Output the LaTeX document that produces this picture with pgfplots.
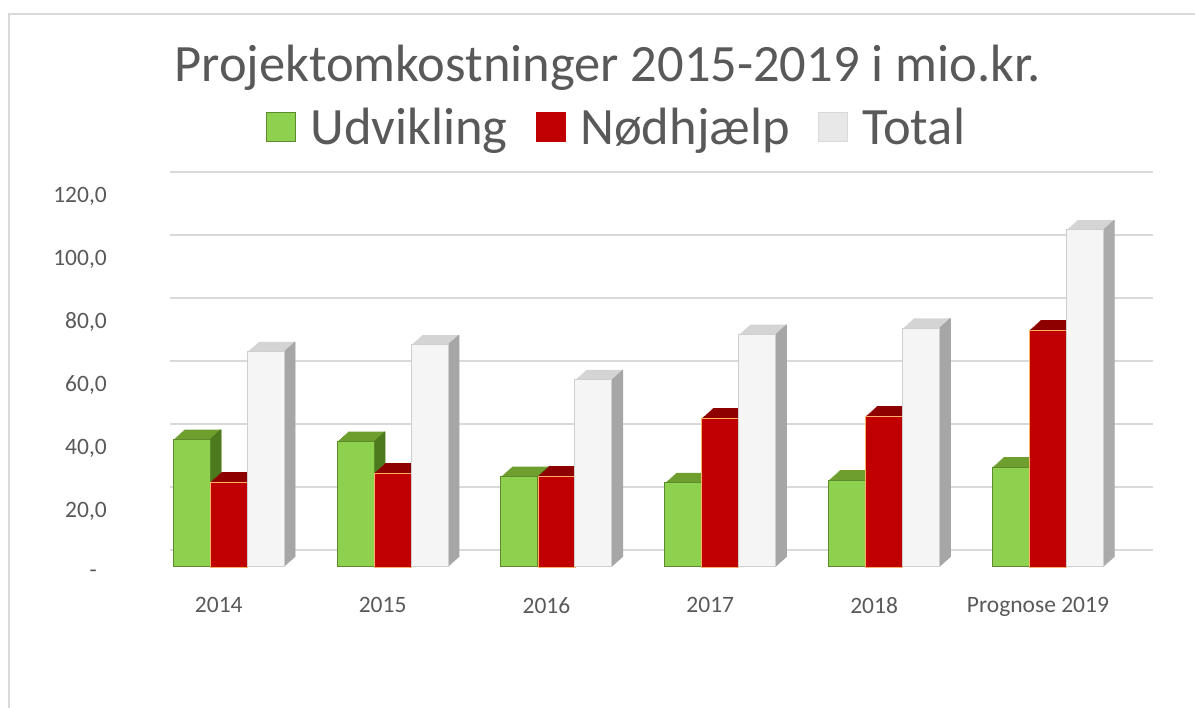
\documentclass[border=0pt]{standalone}
\usepackage{pgfplots}
\pgfplotsset{compat=1.18}
\usepackage{pgfplotstable}
\usepackage{fontspec}
\setmainfont{Carlito}
\definecolor{txt}{HTML}{595959}
\definecolor{gfront}{HTML}{8ED14F}
\definecolor{gtop}{HTML}{6E9E2E}
\definecolor{gside}{HTML}{4E7A1E}
\definecolor{gedge}{HTML}{5E8A2E}
\definecolor{rfront}{HTML}{C00000}
\definecolor{rtop}{HTML}{8E0000}
\definecolor{rside}{HTML}{760000}
\definecolor{redge}{HTML}{FFB060}
\definecolor{tfront}{HTML}{F5F5F5}
\definecolor{ttop}{HTML}{D4D4D4}
\definecolor{tside}{HTML}{A6A6A6}
\definecolor{tedge}{HTML}{CFCFCF}
\definecolor{gridc}{HTML}{D9D9D9}

\pgfplotstableread{
x g r t
0 40.5 27.0 68.3
1 39.8 29.8 70.5
2 28.7 28.9 59.4
3 26.7 47.3 73.8
4 27.6 47.9 75.8
5 31.7 75.2 107.0
}\data

% #1 column, #2 bar shift, #3 top colour, #4 side colour, #5 strip shift
\newcommand\depth[5]{%
  \pgfplotsinvokeforeach{11,10,...,1}{%
    \addplot[ybar, forget plot, fill=#3, draw=none, bar width=37pt, bar shift=#2,
      xshift=##1pt, yshift=##1*0.9pt] table[x=x,y=#1]{\data};
  }%
  \pgfplotsinvokeforeach{1,...,11}{%
    \addplot[ybar, forget plot, fill=#4, draw=none, bar width=1.3pt, bar shift=#5,
      xshift=##1pt, yshift=##1*0.9pt] table[x=x,y=#1]{\data};
  }%
}

\pgfplotsset{sqlegend/.style 2 args={legend image code/.code={%
  \draw[fill=#1,draw=#2,line width=1.5pt] (0pt,-14pt) rectangle (29pt,15pt);}}}

\begin{document}
\begin{tikzpicture}
\path[use as bounding box] (0,0) rectangle (1195pt,708pt);
\draw[gridc, line width=2pt] (8.5pt,0pt) -- (8.5pt,694pt) -- (1195pt,694pt);
\node[anchor=base, text=txt, font=\fontsize{52.5}{60}\selectfont, inner sep=0pt]
  at (607.5pt,626pt) {Projektomkostninger 2015-2019 i mio.kr.};
\begin{axis}[
  at={(160pt,141pt)}, anchor=south west,
  scale only axis, width=983pt, height=378pt,
  xmin=-0.42, xmax=5.58, ymin=0, ymax=120,
  clip=false,
  axis line style={draw=none},
  major tick length=0pt,
  xtick={0,...,5},
  xticklabels={2014,2015,2016,2017,2018,Prognose 2019},
  ytick={0,20,...,120},
  yticklabels={{-\hspace*{10pt}},{20,0},{40,0},{60,0},{80,0},{100,0},{120,0}},
  ticklabel style={text=txt, font=\fontsize{23.5}{28}\selectfont, inner sep=0pt},
  yticklabel style={anchor=east, xshift=-53pt, yshift=-7pt},
  xticklabel style={anchor=north, xshift=-10pt, yshift=-30pt},
  ymajorgrids,
  major grid style={draw=gridc, line width=1.3pt, xshift=10pt, yshift=17pt},
  legend columns=3,
  legend style={draw=none, fill=none, at={(0.4634,1.163)}, anchor=center,
    font=\fontsize{52.5}{60}\selectfont, text=txt, inner sep=0pt,
    nodes={inner sep=0pt},
    /tikz/every odd column/.append style={column sep=14pt},
    /tikz/every even column/.append style={column sep=28pt}},
]
\depth{g}{-37pt}{gtop}{gside}{-19pt}
\addplot[ybar, fill=gfront, draw=gedge, line width=1pt, bar width=37pt, bar shift=-37pt,
  sqlegend={gfront}{gedge}] table[x=x,y=g]{\data};
\addlegendentry{Udvikling}
\depth{r}{0pt}{rtop}{rside}{18pt}
\addplot[ybar, fill=rfront, draw=redge, line width=0.8pt, bar width=37pt, bar shift=0pt,
  sqlegend={rfront}{rfront}] table[x=x,y=r]{\data};
\addlegendentry{Nødhjælp}
\depth{t}{37pt}{ttop}{tside}{55pt}
\addplot[ybar, fill=tfront, draw=tedge, line width=1pt, bar width=37pt, bar shift=37pt,
  sqlegend={gridc!60}{gridc}] table[x=x,y=t]{\data};
\addlegendentry{Total}
\end{axis}
\end{tikzpicture}
\end{document}
